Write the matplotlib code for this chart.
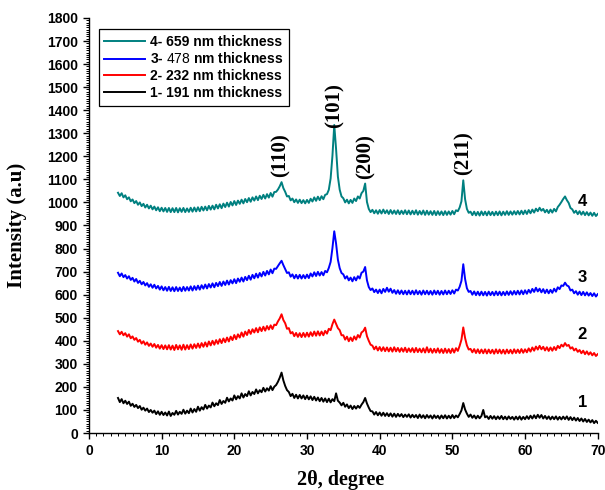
import numpy as np
import matplotlib
matplotlib.use("Agg")
import matplotlib.pyplot as plt
from matplotlib.ticker import MultipleLocator

plt.rcParams["mathtext.fontset"] = "custom"
plt.rcParams["mathtext.rm"] = "Liberation Sans"

# 2-theta scan, 4 to 70 deg in 0.25 deg steps
two_theta = np.arange(4.0, 70.001, 0.25)

# 1- 191 nm
int_191 = [
    152, 134, 147, 129, 140, 126, 136, 118, 127, 113, 122, 108, 117, 101, 110, 97, 106, 91, 100, 88,
    97, 82, 94, 79, 92, 78, 89, 76, 93, 74, 87, 79, 96, 80, 92, 83, 101, 84, 97, 86,
    106, 89, 104, 92, 114, 97, 112, 102, 122, 106, 119, 111, 132, 116, 129, 121, 143, 126, 139, 131,
    153, 137, 150, 141, 163, 146, 160, 150, 172, 154, 169, 160, 181, 163, 178, 169, 189, 172, 186, 177,
    196, 180, 194, 184, 203, 186, 201, 208, 222, 240, 262, 228, 204, 186, 178, 160, 170, 152, 166, 150,
    165, 150, 163, 147, 162, 146, 159, 143, 157, 141, 154, 138, 152, 136, 150, 134, 149, 133, 147, 138,
    172, 140, 132, 120, 131, 114, 124, 108, 119, 104, 117, 106, 118, 109, 123, 134, 152, 128, 110, 95,
    94, 80, 91, 77, 89, 75, 88, 74, 86, 73, 85, 71, 84, 70, 83, 72, 82, 69, 80, 70,
    81, 67, 79, 68, 78, 65, 80, 66, 77, 64, 78, 66, 76, 63, 77, 65, 75, 62, 76, 64,
    77, 63, 75, 64, 78, 65, 76, 68, 82, 98, 130, 102, 84, 70, 80, 66, 76, 63, 75, 64,
    74, 100, 68, 73, 61, 74, 62, 73, 60, 72, 61, 74, 60, 71, 59, 72, 61, 70, 58, 71,
    59, 72, 58, 70, 60, 73, 61, 75, 63, 77, 64, 79, 66, 78, 63, 74, 61, 72, 59, 71,
    60, 72, 58, 70, 59, 71, 60, 72, 57, 69, 56, 67, 54, 65, 52, 63, 50, 61, 48, 58,
    46, 56, 43, 53, 44,
]

# 2- 232 nm
int_232 = [
    442, 428, 439, 424, 433, 418, 428, 411, 419, 404, 412, 396, 404, 388, 398, 383, 393, 378, 388, 374,
    386, 370, 382, 366, 381, 364, 380, 363, 381, 362, 379, 360, 382, 363, 380, 361, 383, 362, 381, 364,
    384, 366, 385, 369, 388, 370, 390, 374, 393, 375, 397, 380, 400, 383, 403, 387, 407, 390, 410, 394,
    414, 397, 418, 403, 425, 407, 428, 414, 436, 418, 440, 425, 447, 430, 450, 436, 455, 437, 458, 442,
    461, 444, 464, 449, 467, 451, 470, 468, 484, 497, 515, 490, 476, 452, 455, 432, 438, 420, 434, 417,
    433, 416, 434, 417, 435, 418, 437, 421, 440, 422, 441, 423, 440, 424, 443, 431, 452, 446, 472, 492,
    474, 455, 446, 424, 424, 405, 418, 398, 414, 399, 419, 405, 425, 414, 436, 442, 457, 420, 400, 383,
    379, 363, 375, 358, 373, 356, 372, 355, 371, 354, 370, 353, 372, 354, 369, 352, 368, 353, 370, 351,
    367, 352, 368, 350, 369, 351, 366, 350, 367, 349, 372, 350, 366, 348, 365, 349, 367, 348, 364, 347,
    366, 348, 364, 347, 366, 349, 368, 356, 378, 405, 458, 412, 380, 362, 365, 350, 364, 347, 363, 346,
    362, 346, 363, 345, 362, 346, 361, 344, 363, 346, 362, 345, 361, 344, 362, 346, 361, 345, 363, 347,
    362, 347, 364, 348, 363, 350, 367, 353, 371, 357, 375, 362, 378, 363, 374, 358, 372, 356, 371, 357,
    373, 360, 378, 368, 383, 375, 390, 378, 382, 366, 372, 358, 366, 352, 360, 346, 357, 342, 354, 340,
    350, 337, 347, 334, 342,
]

# 3- 478 nm
int_478 = [
    695, 680, 692, 676, 685, 670, 680, 664, 673, 657, 668, 651, 660, 645, 655, 640, 650, 634, 645, 630,
    643, 627, 638, 622, 636, 619, 633, 617, 634, 616, 632, 615, 633, 616, 631, 615, 634, 617, 633, 618,
    636, 618, 637, 621, 639, 622, 641, 626, 644, 627, 646, 631, 649, 632, 651, 637, 655, 638, 657, 642,
    661, 644, 663, 649, 667, 650, 670, 656, 674, 657, 677, 663, 682, 665, 686, 671, 691, 674, 694, 679,
    699, 683, 703, 688, 709, 693, 713, 712, 724, 736, 747, 728, 711, 694, 697, 678, 688, 671, 686, 670,
    686, 670, 685, 671, 687, 672, 692, 679, 697, 681, 699, 683, 698, 684, 703, 697, 716, 742, 802, 875,
    822, 752, 715, 694, 688, 670, 680, 662, 674, 658, 676, 662, 680, 670, 695, 700, 720, 662, 633, 620,
    627, 611, 622, 607, 622, 606, 625, 612, 630, 613, 626, 608, 620, 604, 619, 603, 618, 602, 617, 601,
    618, 602, 617, 601, 619, 602, 616, 600, 618, 602, 617, 601, 616, 600, 618, 602, 617, 600, 616, 601,
    618, 602, 617, 603, 619, 605, 622, 618, 634, 660, 732, 668, 628, 612, 616, 600, 614, 598, 613, 597,
    613, 597, 612, 596, 613, 598, 612, 597, 614, 598, 613, 597, 612, 598, 614, 599, 615, 600, 616, 601,
    617, 601, 618, 602, 619, 604, 621, 608, 625, 612, 630, 614, 626, 610, 624, 607, 622, 606, 621, 608,
    626, 613, 632, 624, 640, 638, 652, 640, 636, 618, 622, 606, 615, 600, 613, 598, 612, 597, 610, 596,
    607, 594, 606, 592, 602,
]

# 4- 659 nm
int_659 = [
    1042, 1028, 1040, 1022, 1031, 1014, 1022, 1005, 1013, 997, 1006, 990, 1000, 984, 994, 978, 990, 974, 986, 970,
    982, 966, 979, 962, 977, 961, 976, 959, 976, 958, 975, 958, 976, 957, 975, 959, 976, 958, 974, 959,
    977, 960, 978, 961, 979, 962, 981, 965, 982, 966, 985, 969, 986, 970, 990, 974, 992, 975, 995, 980,
    999, 982, 1002, 987, 1006, 989, 1008, 994, 1012, 996, 1015, 1001, 1019, 1003, 1022, 1008, 1026, 1010, 1029, 1015,
    1033, 1017, 1036, 1021, 1041, 1025, 1045, 1046, 1056, 1070, 1088, 1062, 1046, 1026, 1028, 1009, 1017, 1001, 1013, 998,
    1012, 997, 1010, 996, 1011, 998, 1016, 1004, 1022, 1007, 1025, 1010, 1027, 1014, 1033, 1036, 1055, 1104, 1202, 1336,
    1232, 1112, 1055, 1026, 1018, 1000, 1012, 996, 1011, 998, 1017, 1006, 1026, 1017, 1040, 1050, 1082, 1002, 972, 958,
    968, 953, 966, 951, 967, 952, 969, 953, 966, 950, 967, 951, 965, 950, 966, 949, 964, 950, 966, 949,
    965, 948, 964, 949, 966, 947, 963, 948, 965, 946, 964, 947, 962, 946, 963, 945, 962, 946, 961, 945,
    962, 946, 961, 947, 963, 949, 966, 962, 978, 1005, 1096, 1014, 972, 955, 960, 945, 960, 944, 959, 943,
    961, 945, 960, 944, 961, 945, 959, 944, 960, 945, 961, 944, 960, 946, 962, 946, 961, 947, 962, 948,
    963, 948, 964, 949, 965, 950, 967, 953, 969, 956, 973, 962, 977, 964, 972, 957, 968, 954, 969, 956,
    972, 961, 980, 990, 1002, 1015, 1026, 1010, 998, 976, 970, 955, 964, 949, 962, 947, 960, 945, 958, 944,
    956, 942, 955, 941, 950,
]

series = [
    (int_659, "#008080", "4- 659 nm thickness", "4"),
    (int_478, "#0000ff", "3- $\\mathrm{478}$ nm thickness", "3"),
    (int_232, "#ff0000", "2- 232 nm thickness", "2"),
    (int_191, "#000000", "1- 191 nm thickness", "1"),
]

# reflection labels: (hkl), 2-theta, label centre height
peak_names = ["(110)", "(101)", "(200)", "(211)"]
peak_pos = [26.4, 33.8, 38.0, 51.6]
peak_label_y = [1205, 1420, 1200, 1212]

# curve numbers at the right end
num_x = 67.9
num_y = [1005, 675, 427, 132]

sans = "Liberation Sans"
serif = "Liberation Serif"

fig = plt.figure(figsize=(6.05, 4.9), dpi=100)
ax = fig.add_axes([0.147, 0.1163, 0.841, 0.847])

for (vals, col, lab, _) in series:
    ax.plot(two_theta, vals, color=col, lw=1.4, label=lab)

for name, x, y in zip(peak_names, peak_pos, peak_label_y):
    ax.text(x, y, name, rotation=90, ha="center", va="center",
            family=serif, fontweight="bold", fontsize=15)

for (_, _, _, n), y in zip(series, num_y):
    ax.text(num_x, y, n, ha="center", va="center",
            family=sans, fontweight="bold", fontsize=12)

ax.set_xlim(0, 70)
ax.set_ylim(0, 1800)
ax.xaxis.set_major_locator(MultipleLocator(10))
ax.xaxis.set_minor_locator(MultipleLocator(1))
ax.yaxis.set_major_locator(MultipleLocator(100))
ax.yaxis.set_minor_locator(MultipleLocator(10))

for s in ["top", "right"]:
    ax.spines[s].set_visible(False)
for s in ["left", "bottom"]:
    ax.spines[s].set_linewidth(1.0)

ax.tick_params(which="major", direction="out", length=4.5, width=1.0)
ax.tick_params(which="minor", direction="out", length=2.5, width=0.7)
for lbl in ax.get_xticklabels() + ax.get_yticklabels():
    lbl.set_family(sans)
    lbl.set_fontweight("bold")
    lbl.set_fontsize(10)

ax.set_ylabel("Intensity (a.u)", family=serif, fontweight="bold", fontsize=15)
ax.yaxis.set_label_coords(-0.122, 0.5)
ax.set_xlabel("2θ, degree", family=serif, fontweight="bold", fontsize=14.5)
ax.xaxis.set_label_coords(0.495, -0.09)

leg = ax.legend(loc="upper left", bbox_to_anchor=(0.006, 0.99),
                prop={"family": sans, "weight": "bold", "size": 10},
                fancybox=False, framealpha=1, edgecolor="black",
                handlelength=2.9, labelspacing=0.2, borderpad=0.4,
                handletextpad=0.4)
leg.get_frame().set_linewidth(0.9)

fig.savefig("out.png", dpi=100)
